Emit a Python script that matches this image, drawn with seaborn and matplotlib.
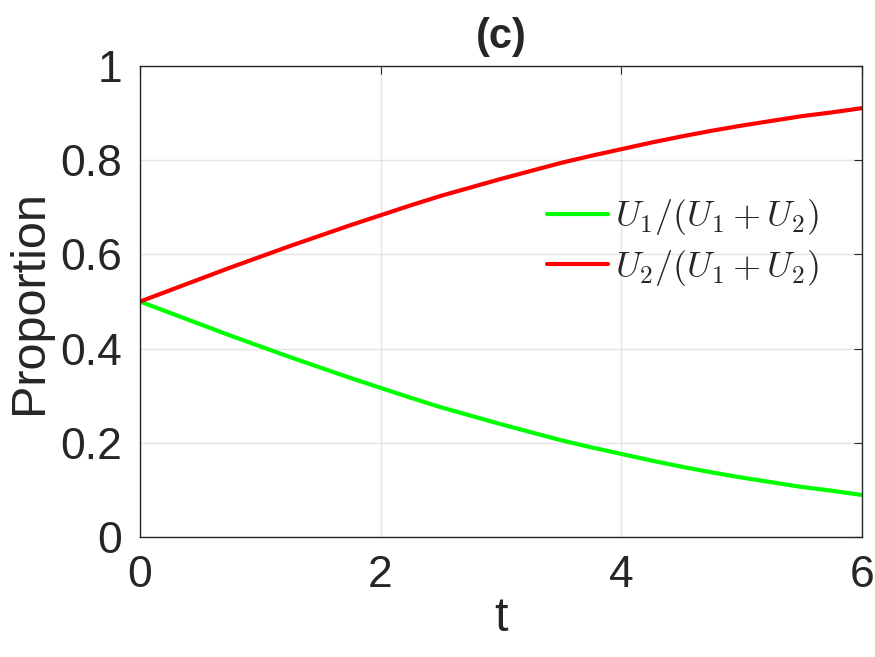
import numpy as np
import pandas as pd
import matplotlib
matplotlib.use("Agg")
import matplotlib.pyplot as plt
import seaborn as sns

# valeurs (pas de 0.25)
t = [0.0, 0.25, 0.5, 0.75, 1.0, 1.25, 1.5, 1.75, 2.0, 2.25, 2.5, 2.75, 3.0,
     3.25, 3.5, 3.75, 4.0, 4.25, 4.5, 4.75, 5.0, 5.25, 5.5, 5.75, 6.0]
p1 = [0.500, 0.476, 0.452, 0.428, 0.405, 0.382, 0.360, 0.338, 0.317, 0.296,
      0.276, 0.258, 0.240, 0.223, 0.206, 0.191, 0.177, 0.163, 0.150, 0.138,
      0.127, 0.117, 0.107, 0.099, 0.090]
p2 = [0.500, 0.524, 0.548, 0.572, 0.595, 0.618, 0.640, 0.662, 0.683, 0.704,
      0.724, 0.742, 0.760, 0.777, 0.794, 0.809, 0.823, 0.837, 0.850, 0.862,
      0.873, 0.883, 0.893, 0.901, 0.910]
labels = [r"$U_1/(U_1+U_2)$", r"$U_2/(U_1+U_2)$"]
colors = ["#00ff00", "#ff0000"]

df = pd.concat([
    pd.DataFrame({"t": t, "p": p1, "serie": labels[0]}),
    pd.DataFrame({"t": t, "p": p2, "serie": labels[1]}),
])

sns.set_style("white")
plt.rcParams["font.family"] = ["Liberation Sans", "DejaVu Sans"]
plt.rcParams["mathtext.fontset"] = "cm"

fig, ax = plt.subplots(figsize=(8.75, 6.57), dpi=100)
fig.subplots_adjust(left=0.16, right=0.985, top=0.9, bottom=0.182)

sns.lineplot(data=df, x="t", y="p", hue="serie", palette=colors, linewidth=3, ax=ax)

ax.set_xlim(0, 6)
ax.set_ylim(0, 1)
ax.set_xticks([0, 2, 4, 6])
ax.set_yticks([0, 0.2, 0.4, 0.6, 0.8, 1])
ax.set_yticklabels(["0", "0.2", "0.4", "0.6", "0.8", "1"])
ax.tick_params(direction="in", length=6, width=0.8, labelsize=32, colors="#262626",
               top=True, right=True)
ax.tick_params(axis="y", pad=13)
ax.tick_params(axis="x", pad=13)
ax.grid(True, color="#e3e3e3", linewidth=1)
for s in ax.spines.values():
    s.set_color("#262626")
    s.set_linewidth(1)

ax.set_xlabel("t", fontsize=35, color="#262626", labelpad=0)
ax.set_ylabel("Proportion", fontsize=35, color="#262626", labelpad=6)
ax.set_title("(c)", fontsize=30, fontweight="bold", pad=13)

leg = ax.legend(loc="upper right", bbox_to_anchor=(0.986, 0.79), frameon=False,
                fontsize=26, handlelength=1.7, handletextpad=0.2, labelspacing=0.3)

plt.savefig("out.png", dpi=100)
